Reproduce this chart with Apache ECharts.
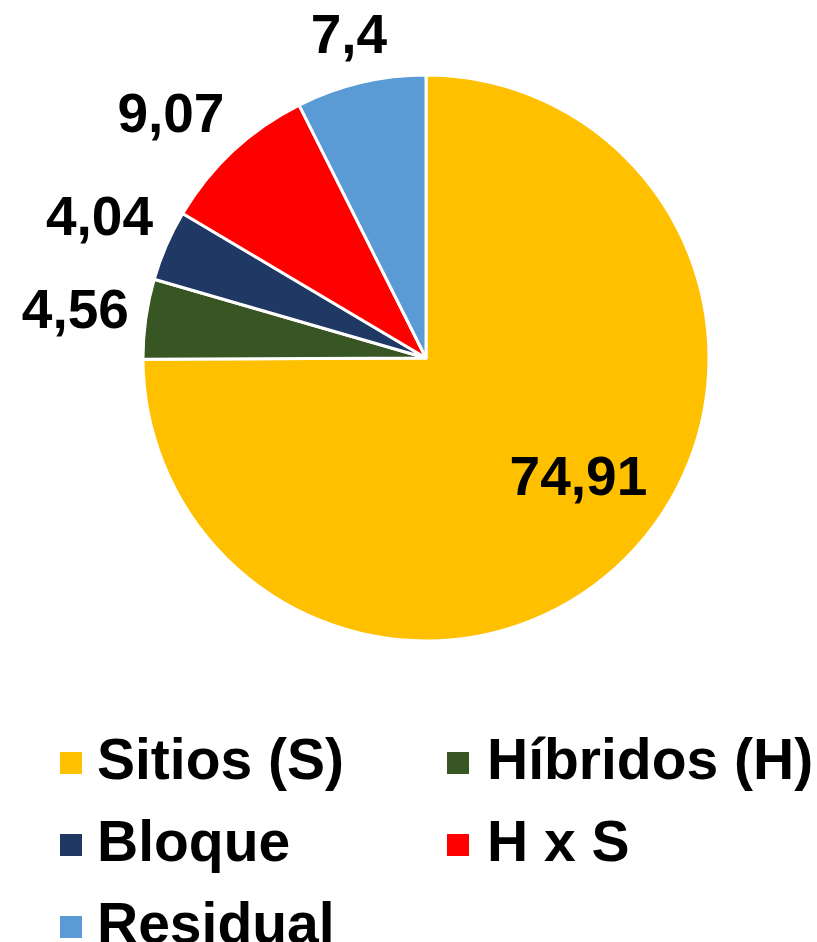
<!DOCTYPE html>
<html>
<head>
<meta charset="utf-8">
<script src="https://cdn.jsdelivr.net/npm/echarts@6/dist/echarts.min.js"></script>
<style>
  html, body { margin: 0; padding: 0; background: #fff; }
  #chart { width: 817px; height: 942px; }
</style>
</head>
<body>
<div id="chart"></div>
<script>
// datos del gráfico
var categorias = ['Sitios (S)', 'Híbridos (H)', 'Bloque', 'H x S', 'Residual'];
var valores = [74.91, 4.56, 4.04, 9.07, 7.4];
var colores = ['#FFC000', '#375623', '#1F3864', '#FF0000', '#5B9BD5'];
// desplazamiento de cada etiqueta (solo estilo)
var desplaz = [[50, 20], [8, -3], [10, -18], [10, -19], [36, -25]];

var fuente = '"Liberation Sans", Arial, sans-serif';

var chart = echarts.init(document.getElementById('chart'));

var datos = categorias.map(function (c, i) {
    var item = {
        name: c,
        value: valores[i],
        itemStyle: { color: colores[i] },
        label: { offset: desplaz[i] }
    };
    if (i === 0) {
        item.label.position = 'inside'; // etiqueta grande dentro del sector amarillo
    }
    return item;
});

var estiloLeyenda = { fontFamily: fuente, fontWeight: 'bold', fontSize: 57, lineHeight: 60, color: '#000' };

chart.setOption({
    animation: false,
    legend: [{
        orient: 'vertical',
        left: 58,
        top: 733,
        height: 240,
        padding: 0,
        icon: 'rect',
        itemWidth: 24,
        itemHeight: 24,
        itemGap: 22,
        data: [categorias[0], categorias[2], categorias[4]],
        textStyle: Object.assign({ padding: [0, 0, 0, 9] }, estiloLeyenda)
    }, {
        orient: 'vertical',
        left: 445,
        top: 733,
        height: 240,
        padding: 0,
        icon: 'rect',
        itemWidth: 24,
        itemHeight: 24,
        itemGap: 22,
        data: [categorias[1], categorias[3]],
        textStyle: Object.assign({ padding: [0, 0, 0, 12] }, estiloLeyenda)
    }],
    series: [{
        type: 'pie',
        center: [426, 358],
        radius: 283,
        startAngle: 90,
        clockwise: true,
        avoidLabelOverlap: false,
        itemStyle: { borderColor: '#fff', borderWidth: 3 },
        label: {
            show: true,
            position: 'outside',
            alignTo: 'none',
            fontFamily: fuente,
            fontWeight: 'bold',
            fontSize: 55,
            color: '#000',
            formatter: function (p) { return String(p.value).replace('.', ','); }
        },
        labelLine: { show: false, length: 20, length2: 0 },
        emphasis: { disabled: true },
        data: datos
    }]
});
</script>
</body>
</html>
